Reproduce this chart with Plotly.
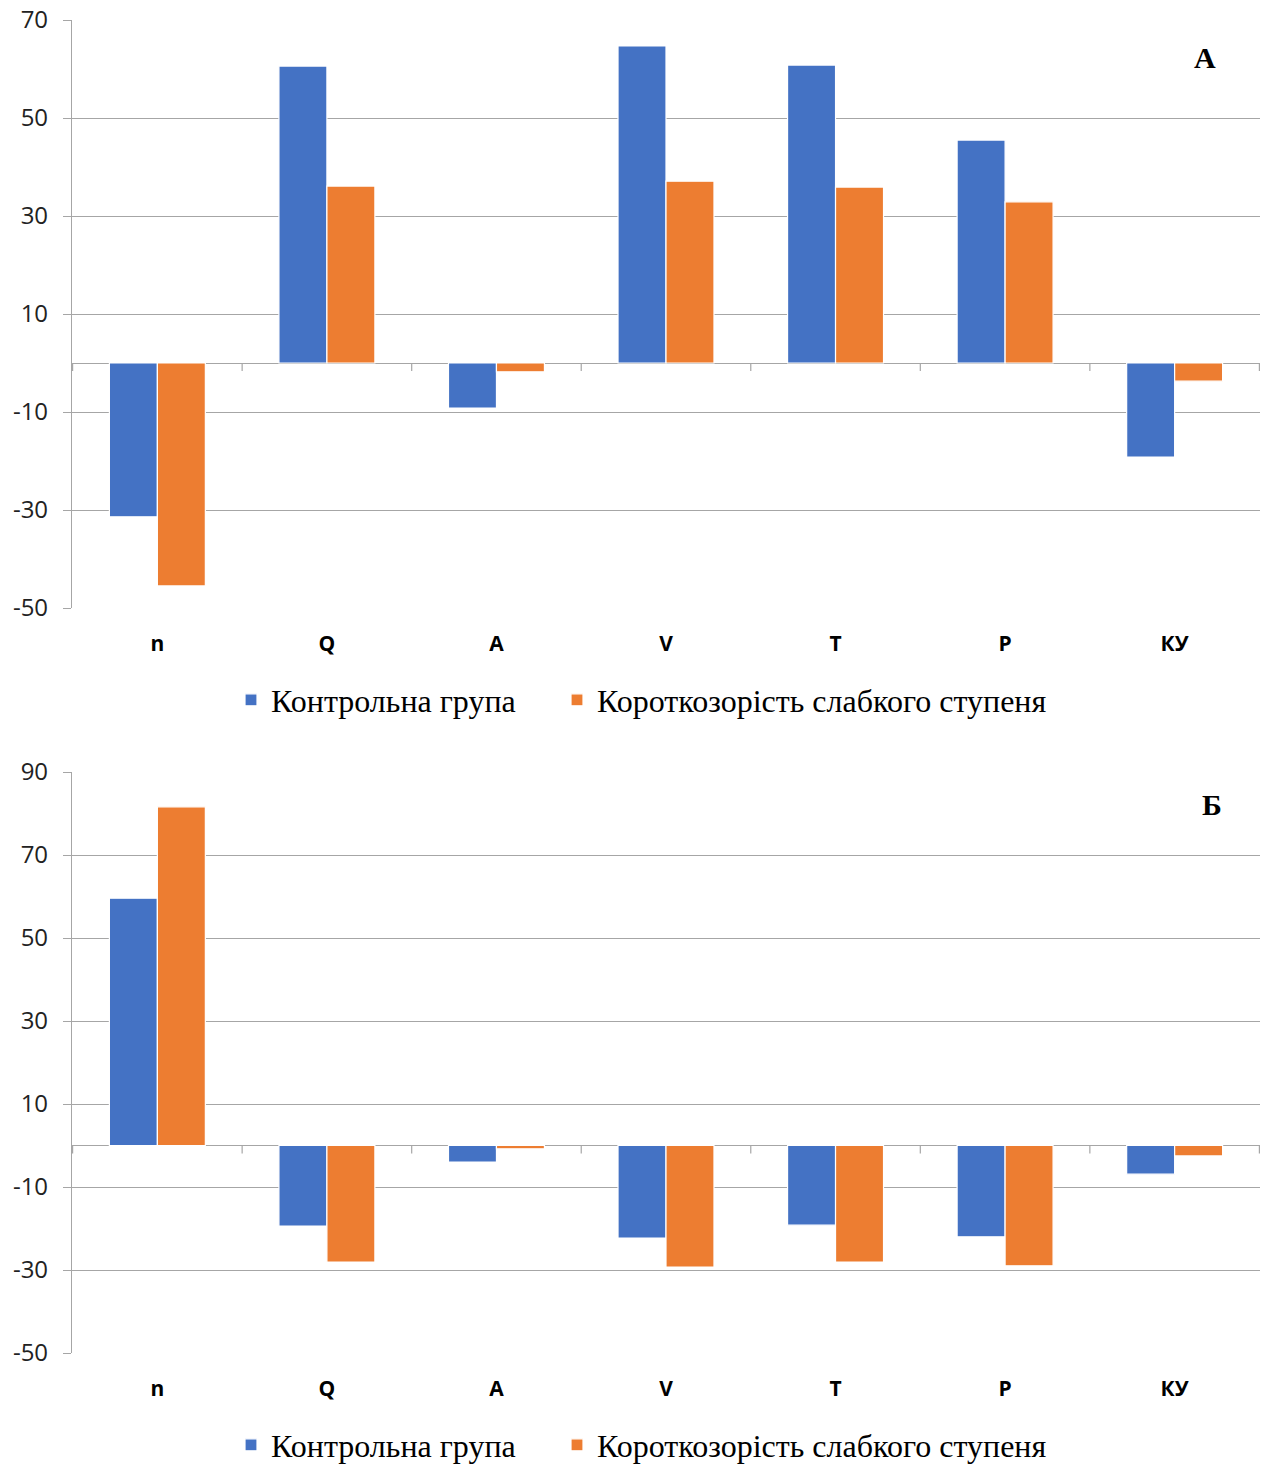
import plotly.graph_objects as go

categories = ["n", "Q", "A", "V", "T", "P", "КУ"]
series_names = ["Контрольна група", "Короткозорість слабкого ступеня"]

# Panel А
a_control = [-31.4, 60.6, -9.2, 64.7, 60.8, 45.5, -19.2]
a_myopia = [-45.5, 36.1, -1.8, 37.1, 35.9, 32.9, -3.7]

# Panel Б
b_control = [59.6, -19.4, -4.0, -22.3, -19.2, -22.0, -6.9]
b_myopia = [81.6, -28.1, -0.8, -29.3, -28.1, -29.0, -2.5]

a_ticks = [-50, -30, -10, 10, 30, 50, 70]
b_ticks = [-50, -30, -10, 10, 30, 50, 70, 90]

BLUE = "#4472C4"
ORANGE = "#ED7D31"
GRID = "#A6A6A6"

W, H = 1264, 1465
PL, PR = 72, 1260
top_dom = [1 - 608 / H, 1 - 20 / H]
bot_dom = [1 - 1353 / H, 1 - 772 / H]

# one legend box per entry so each can sit at its own place
legend_left_px = [231, 557]
legend_mid_px = [700, 1445]

fig = go.Figure()


def add_pair(xa, ya, vals_c, vals_m, legends):
    for name, vals, col, lg in ((series_names[0], vals_c, BLUE, legends[0]),
                                (series_names[1], vals_m, ORANGE, legends[1])):
        fig.add_trace(go.Bar(
            x=categories, y=vals, name=name, xaxis=xa, yaxis=ya,
            marker=dict(color=col, line=dict(color="white", width=1.2)),
            legend=lg, hoverinfo="x+y",
        ))


add_pair("x", "y", a_control, a_myopia, ("legend", "legend2"))
add_pair("x2", "y2", b_control, b_myopia, ("legend3", "legend4"))

tickfont = dict(family="Open Sans, Liberation Sans, sans-serif", size=24, color="#222")
catfont = dict(family="Open Sans, Liberation Sans, sans-serif", size=21, color="#000", weight="bold")


def yaxis(dom, ticks, anchor):
    return dict(
        domain=dom, range=[ticks[0], ticks[-1]], tickmode="array", tickvals=ticks,
        ticktext=[str(t) for t in ticks],
        showgrid=True, gridcolor=GRID, gridwidth=1,
        zeroline=True, zerolinecolor=GRID, zerolinewidth=1.2,
        showline=True, linecolor=GRID, linewidth=1.2,
        ticks="outside", ticklen=8, tickcolor=GRID, tickwidth=1.2,
        tickfont=tickfont, ticklabelstandoff=10, anchor=anchor, fixedrange=True,
        automargin=False,
    )


def xaxis(anchor):
    return dict(
        domain=[0, 1], anchor=anchor, type="category", categoryorder="array",
        categoryarray=categories, showgrid=False, zeroline=False, showline=False,
        ticks="", tickfont=catfont, ticklabelstandoff=21, fixedrange=True,
        automargin=False,
    )


legend_font = dict(family="Liberation Serif, Times New Roman, serif", size=32, color="#000")


def legend_box(left_px, mid_px):
    return dict(
        orientation="h", x=(left_px - PL) / (PR - PL), xanchor="left",
        y=1 - mid_px / H, yanchor="middle", font=legend_font,
        bgcolor="rgba(0,0,0,0)",
    )


fig.update_layout(
    width=W, height=H,
    margin=dict(l=PL, r=W - PR, t=0, b=0, autoexpand=False),
    paper_bgcolor="white", plot_bgcolor="white",
    barmode="group", bargap=0.434, bargroupgap=0.0,
    xaxis=xaxis("y"), yaxis=yaxis(top_dom, a_ticks, "x"),
    xaxis2=xaxis("y2"), yaxis2=yaxis(bot_dom, b_ticks, "x2"),
    legend=legend_box(legend_left_px[0], legend_mid_px[0]),
    legend2=legend_box(legend_left_px[1], legend_mid_px[0]),
    legend3=legend_box(legend_left_px[0], legend_mid_px[1]),
    legend4=legend_box(legend_left_px[1], legend_mid_px[1]),
    showlegend=True,
)

# Category boundary ticks hanging from the zero line
for xr, yr in (("x", "y"), ("x2", "y2")):
    for i in range(len(categories) + 1):
        fig.add_shape(
            type="line", xref=xr, yref=yr, x0=i - 0.5, x1=i - 0.5,
            ysizemode="pixel", yanchor=0, y0=0, y1=-8,
            line=dict(color=GRID, width=1.2), layer="above",
        )

# Panel letters
panel_font = dict(family="Liberation Serif, Times New Roman, serif", size=30, color="#000", weight="bold")
fig.add_annotation(text="А", xref="paper", yref="paper", x=(1205 - PL) / (PR - PL), y=1 - 57 / H,
                   showarrow=False, font=panel_font, xanchor="center", yanchor="middle")
fig.add_annotation(text="Б", xref="paper", yref="paper", x=(1212 - PL) / (PR - PL), y=1 - 804 / H,
                   showarrow=False, font=panel_font, xanchor="center", yanchor="middle")

fig.write_html("out.html")
